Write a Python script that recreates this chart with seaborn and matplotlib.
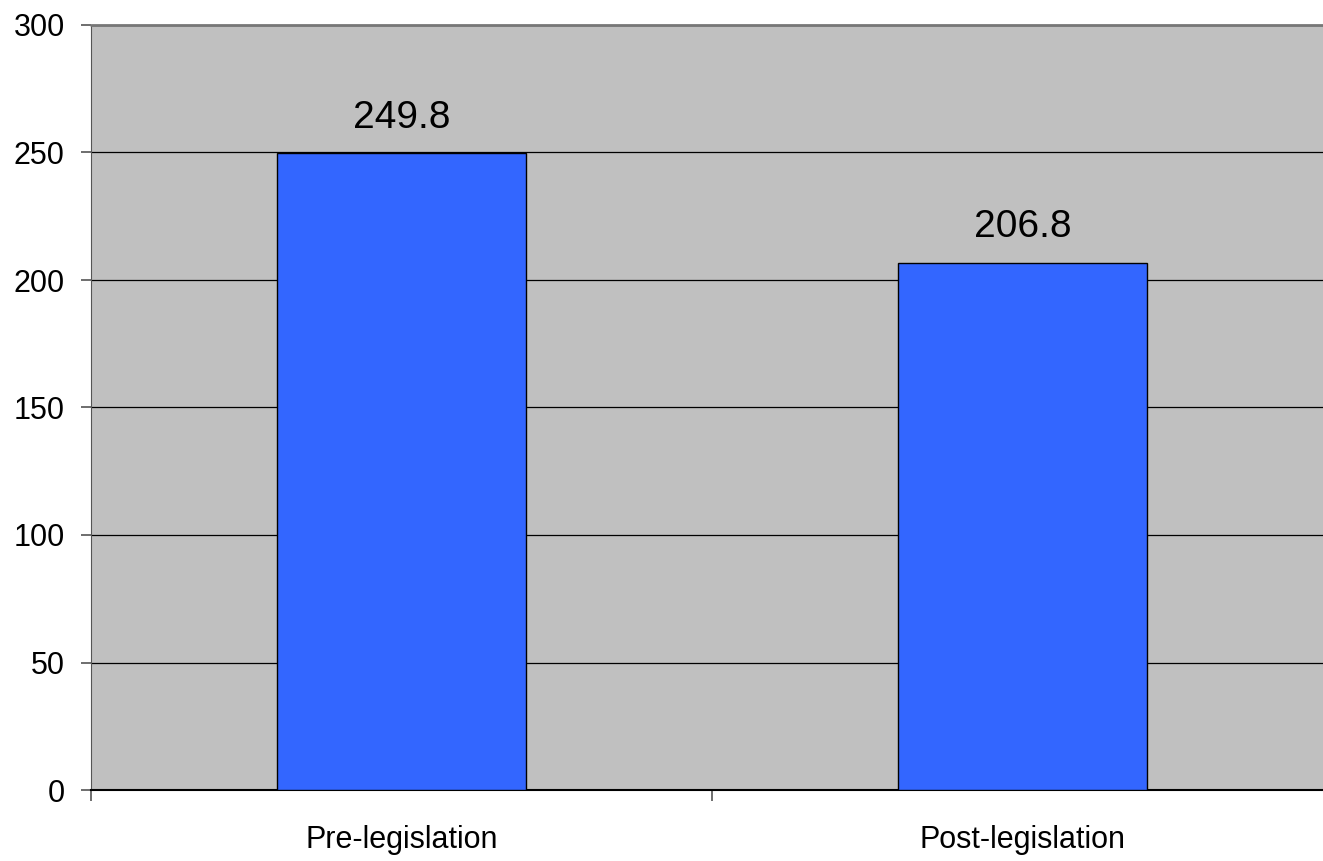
import matplotlib
matplotlib.use("Agg")
import matplotlib.pyplot as plt
import seaborn as sns
import pandas as pd
from matplotlib.ticker import FixedLocator

periods = ["Pre-legislation", "Post-legislation"]
values = [249.8, 206.8]
yticks = [0, 50, 100, 150, 200, 250, 300]

sns.set_style("white")
plt.rcParams['font.family'] = ['Liberation Sans', 'DejaVu Sans']
plt.rcParams['text.color'] = 'black'
plt.rcParams['xtick.color'] = 'black'
plt.rcParams['ytick.color'] = 'black'

df = pd.DataFrame({"period": periods, "value": values})

fig = plt.figure(figsize=(13.23, 8.61), dpi=100)
ax = fig.add_axes([91 / 1323, 1 - 790 / 861, 1242 / 1323, 765 / 861])
ax.set_facecolor("#C0C0C0")

sns.barplot(data=df, x="period", y="value", color="#3366FF", saturation=1,
            edgecolor="black", linewidth=1, width=0.4, ax=ax, zorder=3)

ax.set_xlim(-0.5, 1.5)
ax.set_ylim(0, 300)
ax.set_yticks(yticks)
ax.yaxis.grid(True, color="black", linewidth=0.9, zorder=0)
ax.set_axisbelow(True)
ax.set_xlabel("")
ax.set_ylabel("")

# category ticks sit between the bars
ax.tick_params(axis="x", which="major", bottom=True, length=0, pad=25,
               labelsize=22, labelcolor="black")
ax.xaxis.set_minor_locator(FixedLocator([-0.5, 0.5, 1.5]))
ax.tick_params(axis="x", which="minor", bottom=True, length=8, width=1.2,
               color="#555555")
ax.tick_params(axis="y", left=True, length=7, width=1.2, color="#555555",
               pad=12, labelsize=22, labelcolor="black")

for s in ["top", "right"]:
    ax.spines[s].set_visible(False)
ax.spines["left"].set_color("#555555")
ax.spines["bottom"].set_color("black")
ax.spines["bottom"].set_linewidth(1.5)
ax.axhline(300, color="#777777", linewidth=2, zorder=4, clip_on=False)

for i, v in enumerate(values):
    ax.text(i, v + 10, f"{v:.1f}", ha="center", va="baseline", fontsize=28,
            color="black")

fig.savefig("out.png", dpi=100)
